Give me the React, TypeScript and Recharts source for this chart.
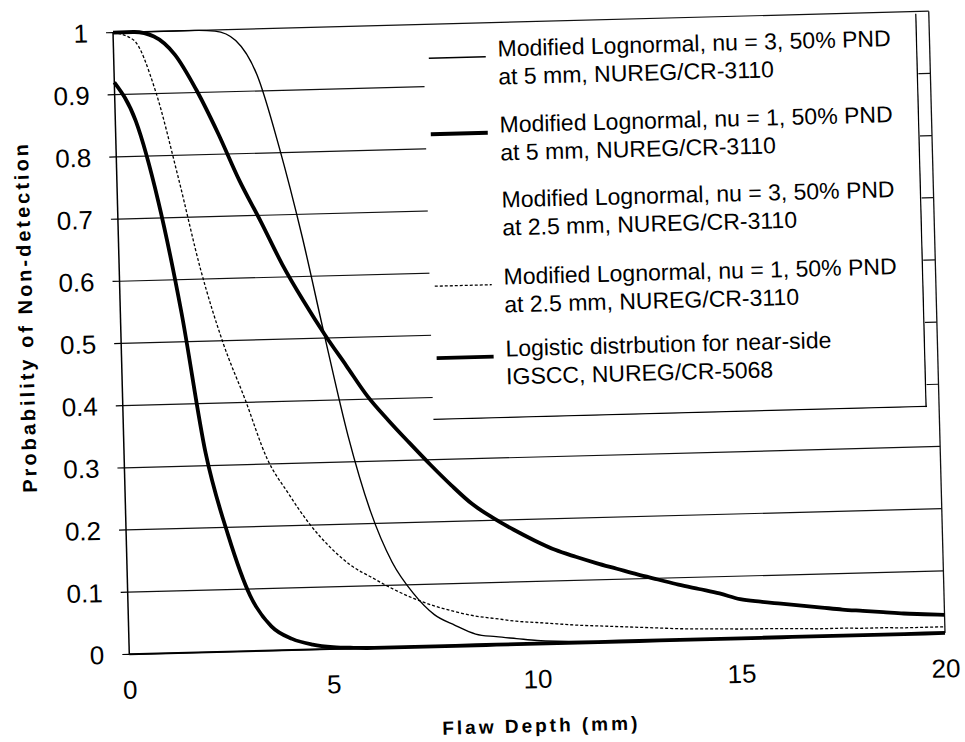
import React from 'react'
import { LineChart, Line, XAxis, YAxis, CartesianGrid, Legend, ReferenceLine } from 'recharts'

// flaw depth in mm, one point every 0.5 mm
const depth = [
  0, 0.5, 1, 1.5, 2, 2.5, 3, 3.5, 4, 4.5,
  5, 5.5, 6, 6.5, 7, 7.5, 8, 8.5, 9, 9.5,
  10, 10.5, 11, 11.5, 12, 12.5, 13, 13.5, 14, 14.5,
  15, 15.5, 16, 16.5, 17, 17.5, 18, 18.5, 19, 19.5,
  20,
]

// Modified Lognormal, nu = 3, 50% PND at 5 mm (thin line)
const nu3At5mm = [
  1, 1, 1, 1, 1, 0.998, 0.982, 0.926, 0.808, 0.665,
  0.5, 0.342, 0.22, 0.137, 0.086, 0.051, 0.033, 0.018, 0.013, 0.009,
  0.005, 0.003, 0.002, 0.001, 0.001, 0, 0, 0, 0, 0,
  0, 0, 0, 0, 0, 0, 0, 0, 0, 0,
  0,
]

// Modified Lognormal, nu = 1, 50% PND at 5 mm (thick line)
const nu1At5mm = [
  1, 1, 0.992, 0.962, 0.905, 0.835, 0.757, 0.69, 0.62, 0.56,
  0.505, 0.455, 0.405, 0.365, 0.328, 0.292, 0.258, 0.227, 0.204, 0.184,
  0.166, 0.15, 0.138, 0.127, 0.117, 0.107, 0.098, 0.089, 0.081, 0.073,
  0.063, 0.058, 0.054, 0.05, 0.046, 0.042, 0.039, 0.036, 0.033, 0.031,
  0.029,
]

// Modified Lognormal, nu = 1, 50% PND at 2.5 mm (thin dotted line)
const nu1At25mm = [
  1, 0.987, 0.905, 0.766, 0.614, 0.496, 0.405, 0.309, 0.252, 0.202,
  0.163, 0.133, 0.113, 0.094, 0.078, 0.065, 0.055, 0.047, 0.042, 0.037,
  0.034, 0.031, 0.028, 0.026, 0.024, 0.022, 0.02, 0.018, 0.017, 0.016,
  0.015, 0.0145, 0.014, 0.013, 0.012, 0.012, 0.011, 0.011, 0.01, 0.01,
  0.01,
]

// Logistic distribution for near-side IGSCC (thick line)
const logisticIGSCC = [
  0.92, 0.857, 0.727, 0.546, 0.32, 0.187, 0.089, 0.039, 0.018, 0.008,
  0.003, 0.001, 0, 0, 0, 0, 0, 0, 0, 0,
  0, 0, 0, 0, 0, 0, 0, 0, 0, 0,
  0, 0, 0, 0, 0, 0, 0, 0, 0, 0,
  0,
]

const xTicks = [0, 5, 10, 15, 20]
const yTicks = [0, 0.1, 0.2, 0.3, 0.4, 0.5, 0.6, 0.7, 0.8, 0.9, 1]

const legendText = [
  ['Modified Lognormal, nu = 3, 50% PND', 'at 5 mm, NUREG/CR-3110'],
  ['Modified Lognormal, nu = 1, 50% PND', 'at 5 mm, NUREG/CR-3110'],
  ['Modified Lognormal, nu = 3, 50% PND', 'at 2.5 mm, NUREG/CR-3110'],
  ['Modified Lognormal, nu = 1, 50% PND', 'at 2.5 mm, NUREG/CR-3110'],
  ['Logistic distrbution for near-side', 'IGSCC, NUREG/CR-5068'],
]

const FONT = '"Liberation Sans", Arial, Helvetica, sans-serif'

const data = depth.map((d, i) => ({
  depth: d,
  nu3At5mm: nu3At5mm[i],
  nu1At5mm: nu1At5mm[i],
  nu1At25mm: nu1At25mm[i],
  logistic: logisticIGSCC[i],
}))

// line look for each legend entry (the 3rd one never shows up in the scan)
const samples = [
  { width: 1.4, dash: undefined as string | undefined },
  { width: 3.8, dash: undefined },
  { width: 0, dash: undefined },
  { width: 1.3, dash: '3 2' },
  { width: 3.8, dash: undefined },
]

const LEG_W = 494
const LEG_H = 394
const entryTop = [24, 100, 175, 252, 324]

const renderLegend = () => (
  <svg width={LEG_W} height={LEG_H} style={{ display: 'block', background: '#fff' }}>
    {legendText.map((lines, i) => (
      <g key={i}>
        {samples[i].width > 0 && (
          <line
            x1={5}
            x2={62}
            y1={entryTop[i] + 8}
            y2={entryTop[i] + 8}
            stroke="#000"
            strokeWidth={samples[i].width}
            strokeDasharray={samples[i].dash}
          />
        )}
        {lines.map((t, j) => (
          <text
            key={j}
            x={74}
            y={entryTop[i] + j * 28}
            dominantBaseline="central"
            fontFamily={FONT}
            fontSize={23}
            fill="#000"
          >
            {t}
          </text>
        ))}
      </g>
    ))}
    <line x1={LEG_W - 1} x2={LEG_W - 1} y1={0} y2={LEG_H} stroke="#000" strokeWidth={1.3} />
    <line x1={0} x2={LEG_W} y1={LEG_H - 1} y2={LEG_H - 1} stroke="#000" strokeWidth={1.3} />
  </svg>
)

const YTitle = () => (
  <text
    x={27}
    y={305}
    transform="rotate(-90 27 305)"
    textAnchor="middle"
    dominantBaseline="central"
    fontFamily={FONT}
    fontSize={20}
    fontWeight="bold"
    letterSpacing={3}
    fill="#000"
  >
    Probability of Non-detection
  </text>
)

const XTitle = () => (
  <text
    x={532}
    y={727}
    textAnchor="middle"
    dominantBaseline="central"
    fontFamily={FONT}
    fontSize={19}
    fontWeight="bold"
    letterSpacing={3}
    fill="#000"
  >
    Flaw Depth (mm)
  </text>
)

const tickStyle = { fill: '#000', fontSize: 26, fontFamily: FONT }

export default function App() {
  return (
    <div
      style={{
        position: 'absolute',
        left: 0,
        top: 0,
        width: 965,
        height: 742,
        background: '#fff',
        transform: 'rotate(-1.5deg)',
        transformOrigin: '482px 371px',
      }}
    >
      <LineChart width={965} height={742} data={data} margin={{ top: 23, right: 27, bottom: 37, left: 22 }}>
        <CartesianGrid vertical={false} stroke="#111" strokeWidth={1.2} />
        <XAxis
          dataKey="depth"
          type="number"
          domain={[0, 20]}
          ticks={xTicks}
          interval={0}
          height={60}
          tickLine={false}
          tickSize={0}
          tickMargin={26}
          axisLine={{ stroke: '#000', strokeWidth: 2 }}
          tick={tickStyle}
          label={<XTitle />}
        />
        <YAxis
          type="number"
          domain={[0, 1]}
          ticks={yTicks}
          interval={0}
          width={100}
          tickSize={7}
          tickMargin={18}
          axisLine={{ stroke: '#000', strokeWidth: 1.5 }}
          tickLine={{ stroke: '#000', strokeWidth: 1.2 }}
          tick={tickStyle}
          label={<YTitle />}
        />
        <ReferenceLine x={20} stroke="#111" strokeWidth={1.3} />
        <Line type="monotone" dataKey="nu3At5mm" stroke="#000" strokeWidth={1.4} dot={false} isAnimationActive={false} />
        <Line type="monotone" dataKey="nu1At5mm" stroke="#000" strokeWidth={3.8} dot={false} isAnimationActive={false} />
        <Line type="monotone" dataKey="nu1At25mm" stroke="#000" strokeWidth={1.3} strokeDasharray="3 2" dot={false} isAnimationActive={false} />
        <Line type="monotone" dataKey="logistic" stroke="#000" strokeWidth={3.8} dot={false} isAnimationActive={false} />
        <Legend
          layout="vertical"
          align="center"
          verticalAlign="middle"
          content={renderLegend}
          wrapperStyle={{ left: 432, top: 25, width: LEG_W, height: LEG_H }}
        />
      </LineChart>
    </div>
  )
}
